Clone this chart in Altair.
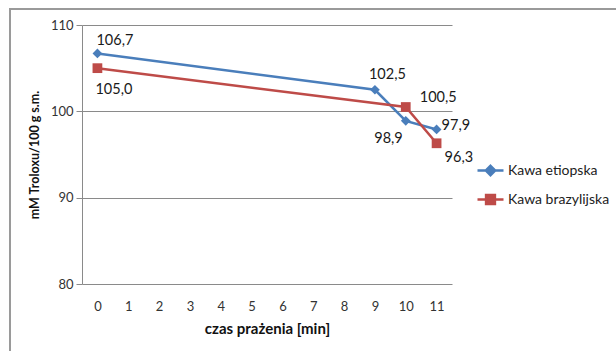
import altair as alt
import pandas as pd

# Roasting time [min] and antioxidant capacity for each coffee
series_names = ["Kawa etiopska", "Kawa brazylijska"]
time_etiopska = [0, 9, 10, 11]
value_etiopska = [106.7, 102.5, 98.9, 97.9]
time_brazylijska = [0, 10, 11]
value_brazylijska = [105.0, 100.5, 96.3]
x_categories = list(range(12))
y_ticks = [80, 90, 100, 110]

colors = ["#4a7ebb", "#be4b48"]
marker_shapes = ["diamond", "square"]

rows = []
for name, ts, vs in [
    (series_names[0], time_etiopska, value_etiopska),
    (series_names[1], time_brazylijska, value_brazylijska),
]:
    for t, v in zip(ts, vs):
        rows.append({"seria": name, "t": t, "v": v,
                     "lbl": f"{v:.1f}".replace(".", ",")})
df = pd.DataFrame(rows)

FONT = "Lato"
x_enc = alt.X("t:O", scale=alt.Scale(type="point", domain=x_categories, padding=0.5),
              axis=alt.Axis(title="czas prażenia [min]", labelAngle=0, ticks=False,
                            domain=False, labelPadding=16, titlePadding=8,
                            labelFontSize=13, titleFontSize=15, titleFontWeight="bold"))
y_enc = alt.Y("v:Q", scale=alt.Scale(domain=[80, 110], nice=False, zero=False),
              axis=alt.Axis(title="mM Troloxu/100 g s.m.", values=y_ticks, tickSize=6,
                            labelPadding=3, titlePadding=9, labelFontSize=13,
                            titleFontSize=12.5, titleFontWeight="bold"))
color_scale = alt.Scale(domain=series_names, range=colors)

base = alt.Chart(df)

# One line and one set of markers per coffee
series_layers = []
for name, col, shape in zip(series_names, colors, marker_shapes):
    sub = base.transform_filter(alt.datum.seria == name)
    series_layers.append(sub.mark_line(strokeWidth=2.5, color=col).encode(x=x_enc, y=y_enc))
    series_layers.append(
        sub.mark_point(filled=True, opacity=1, size=95, shape=shape, color=col)
        .encode(x="t:O", y="v:Q")
    )

# Legend entries: a line segment with the series marker in the middle
legend_paths = [
    "M-1,0H1M0,-0.36L0.36,0L0,0.36L-0.36,0Z",
    "M-1,0H1M-0.34,-0.34H0.34V0.34H-0.34Z",
]
legend_layer = base.mark_point(filled=True, opacity=1, strokeWidth=2.5, size=0).encode(
    x="t:O", y="v:Q",
    color=alt.Color("seria:N", scale=color_scale,
                    legend=alt.Legend(title=None, orient="none", legendX=394, legendY=131,
                                      symbolSize=676, symbolStrokeWidth=2.5,
                                      labelFontSize=14, labelOffset=3, rowPadding=4,
                                      labelFont=FONT, labelColor="#222")),
    stroke=alt.Stroke("seria:N", scale=color_scale),
    shape=alt.Shape("seria:N", scale=alt.Scale(domain=series_names, range=legend_paths)),
)

# Value labels, each placed beside its own point
placements = [
    ("Kawa etiopska", 0, "left", -1, -12),
    ("Kawa etiopska", 9, "left", -6, -15),
    ("Kawa etiopska", 10, "right", -3, 18),
    ("Kawa etiopska", 11, "left", 5, -3),
    ("Kawa brazylijska", 0, "left", -2, 22),
    ("Kawa brazylijska", 10, "left", 14, -9),
    ("Kawa brazylijska", 11, "left", 8, 15),
]
label_layers = []
for name, t, align, dx, dy in placements:
    label_layers.append(
        base.transform_filter((alt.datum.seria == name) & (alt.datum.t == t))
        .mark_text(align=align, baseline="middle", dx=dx, dy=dy, fontSize=14.5,
                   font=FONT, color="#1a1a1a")
        .encode(x="t:O", y="v:Q", text="lbl:N")
    )

frame = alt.Chart(df).mark_rect(filled=False, stroke="#9a9a9a", strokeWidth=1.5).encode(
    x=alt.value(-72), x2=alt.value(700), y=alt.value(-16), y2=alt.value(400)
)

chart = alt.layer(frame, *series_layers, legend_layer, *label_layers).properties(
    width=370, height=259, autosize="none",
    padding={"left": 82, "top": 25, "right": 164, "bottom": 67},
    background="white",
).configure_view(stroke=None).configure_axis(
    gridColor="#8a8a8a", gridWidth=1, domainColor="#8a8a8a", tickColor="#8a8a8a",
    labelFont=FONT, titleFont=FONT, labelColor="#333", titleColor="#111",
).configure_axisX(grid=False).configure_axisY(grid=True)

chart.save("out.html", embed_options={"renderer": "svg", "actions": False})
